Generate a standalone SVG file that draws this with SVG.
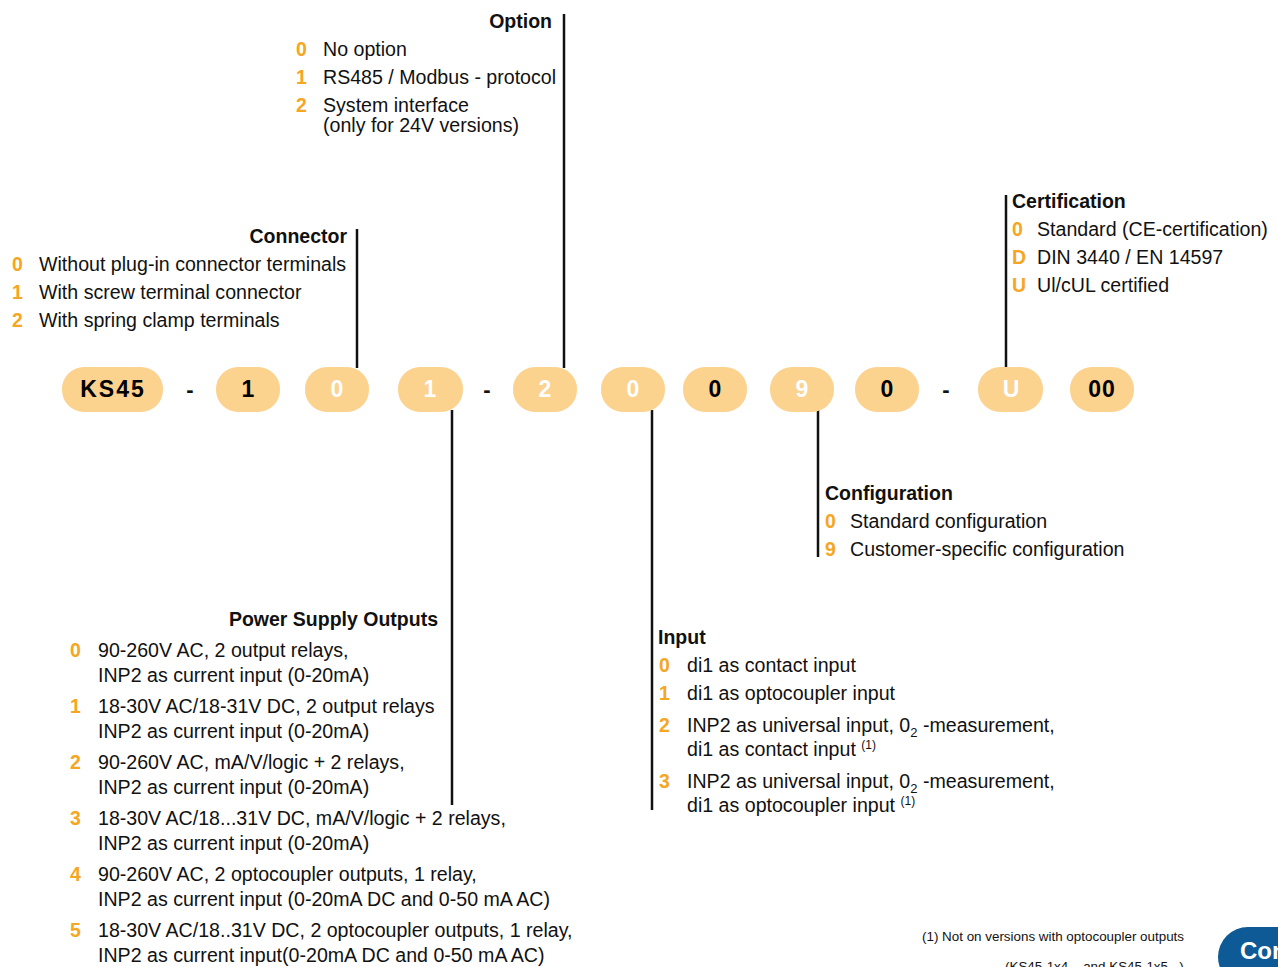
<svg xmlns="http://www.w3.org/2000/svg" width="1278" height="967" viewBox="0 0 1278 967">
<style>
text{font-family:"Liberation Sans",Arial,sans-serif;fill:#111}
.h{font-size:19.5px;font-weight:bold}
.t{font-size:19.6px}
.d{font-size:19.5px;font-weight:bold;fill:#f5a623}
.pill{fill:#fcd28f}
.p{font-size:23px;font-weight:bold;text-anchor:middle}
.pw{fill:#fff}
.pk{fill:#000}
.ln{stroke:#111;stroke-width:2.5;fill:none}
.dash{font-size:22px;font-weight:bold;text-anchor:middle;fill:#111}
.fn{font-size:13.4px}
.sub{font-size:13px}
.sup{font-size:12px}
</style>
<g id="connectors">
<line class="ln" x1="357" y1="229" x2="357" y2="368"/>
<line class="ln" x1="564" y1="14" x2="564" y2="368"/>
<line class="ln" x1="1006" y1="195" x2="1006" y2="368"/>
<line class="ln" x1="452" y1="410" x2="452" y2="805"/>
<line class="ln" x1="652" y1="410" x2="652" y2="810"/>
<line class="ln" x1="818" y1="410" x2="818" y2="557"/>
</g>
<g id="code">
<g id="pill-ks45"><rect class="pill" x="62" y="367" width="101" height="45" rx="22"/><text class="p pk" x="113" y="397" style="letter-spacing:2px">KS45</text></g>
<text class="dash" x="190" y="397">-</text>
<g id="pill-1"><rect class="pill" x="216" y="367" width="64" height="45" rx="22"/><text class="p pk" x="248" y="397">1</text></g>
<g id="pill-2"><rect class="pill" x="305" y="367" width="64" height="45" rx="22"/><text class="p pw" x="337" y="397">0</text></g>
<g id="pill-3"><rect class="pill" x="398" y="367" width="65" height="45" rx="22"/><text class="p pw" x="430" y="397">1</text></g>
<text class="dash" x="487" y="397">-</text>
<g id="pill-4"><rect class="pill" x="513" y="367" width="64" height="45" rx="22"/><text class="p pw" x="545" y="397">2</text></g>
<g id="pill-5"><rect class="pill" x="601" y="367" width="64" height="45" rx="22"/><text class="p pw" x="633" y="397">0</text></g>
<g id="pill-6"><rect class="pill" x="683" y="367" width="64" height="45" rx="22"/><text class="p pk" x="715" y="397">0</text></g>
<g id="pill-7"><rect class="pill" x="770" y="367" width="64" height="45" rx="22"/><text class="p pw" x="802" y="397">9</text></g>
<g id="pill-8"><rect class="pill" x="855" y="367" width="64" height="45" rx="22"/><text class="p pk" x="887" y="397">0</text></g>
<text class="dash" x="946" y="397">-</text>
<g id="pill-9"><rect class="pill" x="978" y="367" width="65" height="45" rx="22"/><text class="p pw" x="1011" y="397">U</text></g>
<g id="pill-10"><rect class="pill" x="1070" y="367" width="64" height="45" rx="22"/><text class="p pk" x="1102" y="397" style="letter-spacing:1px">00</text></g>
</g>
<g id="option">
<text class="h" x="552" y="28" text-anchor="end">Option</text>
<text class="d" x="296" y="56">0</text><text class="t" x="323" y="56">No option</text>
<text class="d" x="296" y="84">1</text><text class="t" x="323" y="84">RS485 / Modbus - protocol</text>
<text class="d" x="296" y="112">2</text><text class="t" x="323" y="112">System interface</text>
<text class="t" x="323" y="132">(only for 24V versions)</text>
</g>
<g id="connector">
<text class="h" x="347" y="243" text-anchor="end">Connector</text>
<text class="d" x="12" y="271">0</text><text class="t" x="39" y="271">Without plug-in connector terminals</text>
<text class="d" x="12" y="299">1</text><text class="t" x="39" y="299">With screw terminal connector</text>
<text class="d" x="12" y="327">2</text><text class="t" x="39" y="327">With spring clamp terminals</text>
</g>
<g id="certification">
<text class="h" x="1012" y="208">Certification</text>
<text class="d" x="1012" y="236">0</text><text class="t" x="1037" y="236">Standard (CE-certification)</text>
<text class="d" x="1012" y="264">D</text><text class="t" x="1037" y="264">DIN 3440 / EN 14597</text>
<text class="d" x="1012" y="292">U</text><text class="t" x="1037" y="292">Ul/cUL certified</text>
</g>
<g id="configuration">
<text class="h" x="825" y="500">Configuration</text>
<text class="d" x="825" y="528">0</text><text class="t" x="850" y="528">Standard configuration</text>
<text class="d" x="825" y="556">9</text><text class="t" x="850" y="556">Customer-specific configuration</text>
</g>
<g id="input">
<text class="h" x="658" y="644">Input</text>
<text class="d" x="659" y="672">0</text><text class="t" x="687" y="672">di1 as contact input</text>
<text class="d" x="659" y="700">1</text><text class="t" x="687" y="700">di1 as optocoupler input</text>
<text class="d" x="659" y="732">2</text><text class="t" x="687" y="732">INP2 as universal input, 0<tspan class="sub" dy="5">2</tspan><tspan dy="-5"> -measurement,</tspan></text>
<text class="t" x="687" y="756">di1 as contact input <tspan class="sup" dy="-7">(1)</tspan></text>
<text class="d" x="659" y="788">3</text><text class="t" x="687" y="788">INP2 as universal input, 0<tspan class="sub" dy="5">2</tspan><tspan dy="-5"> -measurement,</tspan></text>
<text class="t" x="687" y="812">di1 as optocoupler input <tspan class="sup" dy="-7">(1)</tspan></text>
</g>
<g id="power">
<text class="h" x="438" y="626" text-anchor="end">Power Supply Outputs</text>
<text class="d" x="70" y="657">0</text><text class="t" x="98" y="657">90-260V AC, 2 output relays,</text>
<text class="t" x="98" y="682">INP2 as current input (0-20mA)</text>
<text class="d" x="70" y="713">1</text><text class="t" x="98" y="713">18-30V AC/18-31V DC, 2 output relays</text>
<text class="t" x="98" y="738">INP2 as current input (0-20mA)</text>
<text class="d" x="70" y="769">2</text><text class="t" x="98" y="769">90-260V AC, mA/V/logic + 2 relays,</text>
<text class="t" x="98" y="794">INP2 as current input (0-20mA)</text>
<text class="d" x="70" y="825">3</text><text class="t" x="98" y="825">18-30V AC/18...31V DC, mA/V/logic + 2 relays,</text>
<text class="t" x="98" y="850">INP2 as current input (0-20mA)</text>
<text class="d" x="70" y="881">4</text><text class="t" x="98" y="881">90-260V AC, 2 optocoupler outputs, 1 relay,</text>
<text class="t" x="98" y="906">INP2 as current input (0-20mA DC and 0-50 mA AC)</text>
<text class="d" x="70" y="937">5</text><text class="t" x="98" y="937">18-30V AC/18..31V DC, 2 optocoupler outputs, 1 relay,</text>
<text class="t" x="98" y="962">INP2 as current input(0-20mA DC and 0-50 mA AC)</text>
</g>
<g id="footnote">
<text class="fn" x="922" y="941">(1) Not on versions with optocoupler outputs</text>
<text class="fn" x="1005" y="971">(KS45-1x4... and KS45-1x5...)</text>
</g>
<g id="button">
<rect x="1218" y="927" width="120" height="60" rx="30" fill="#0d5a96"/>
<text x="1240" y="959" style="font-size:24px;font-weight:bold;fill:#fff">Con</text>
</g>
</svg>
